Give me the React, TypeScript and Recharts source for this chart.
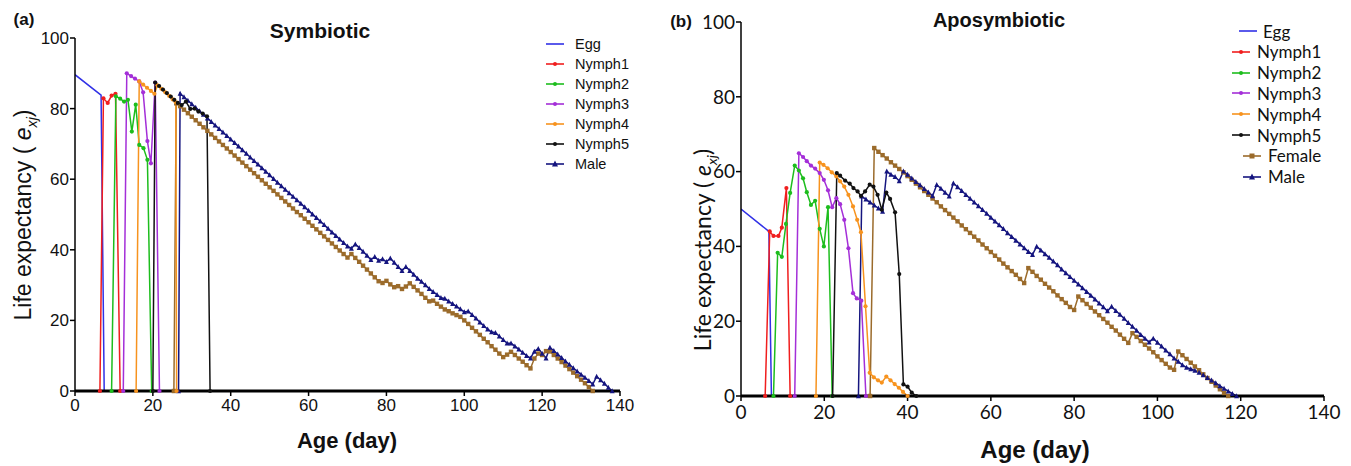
import React from "react"
import { LineChart, Line, XAxis, YAxis } from "recharts"

const xTicks = [0, 20, 40, 60, 80, 100, 120, 140]
const yTicks = [0, 20, 40, 60, 80, 100]

// (a) Symbiotic: [age (day), e_xj]
const symEgg = [[0, 89.6], [6.7, 83.8], [7.5, 0]]
const symNymph1 = [[6.4, 0], [7.3, 82.9], [8.4, 81.6], [9.4, 83.7], [10.4, 84.2], [11.6, 0]]
const symNymph2 = [[9.4, 0], [10.5, 83.5], [11.6, 82.8], [12.6, 82.0], [13.6, 82.5], [14.6, 73.5], [15.6, 81.1], [16.5, 69.7], [17.6, 68.8], [18.6, 65.5], [19.7, 0]]
const symNymph3 = [[12.4, 0], [13.3, 90.0], [14.4, 89.2], [15.4, 88.5], [16.5, 87.7], [17.5, 84.6], [18.6, 70.8], [19.5, 64.5], [20.6, 87.4], [21.7, 0]]
const symNymph4 = [[15.7, 0], [16.5, 87.7], [17.5, 86.8], [18.5, 85.9], [19.5, 85.0], [20.4, 84.2], [21.2, 86.6], [22.2, 85.6], [23.2, 84.6], [24.2, 83.6], [25.1, 82.6], [25.9, 81.8], [26.1, 0]]
const symNymph5 = [[20.0, 0], [20.6, 87.4], [21.6, 86.4], [22.6, 85.4], [23.6, 84.4], [24.6, 83.4], [25.5, 82.5], [26.4, 81.6], [27.4, 81.0], [28.5, 82.0], [29.6, 79.9], [30.7, 80.0], [31.7, 79.2], [32.8, 78.6], [33.9, 77.8], [34.7, 0]]
const symFemaleRise = 25.4
const symFemaleStart = 26
const symFemale = [
  81.5, 80.7, 79.7, 78.7, 77.7, 76.7, 75.7, 74.7, 73.7, 72.7,
  71.7, 70.7, 69.7, 68.7, 67.7, 66.7, 65.7, 64.7, 63.7, 62.7,
  61.7, 60.7, 59.7, 58.7, 57.7, 56.7, 55.7, 54.7, 53.7, 52.7,
  51.7, 50.7, 49.8, 48.8, 47.8, 46.8, 45.8, 44.8, 43.8, 42.8,
  41.8, 40.8, 39.8, 38.8, 37.8, 38.8, 37.7, 36.6, 35.5, 34.4,
  33.3, 32.2, 31.1, 30.6, 31.2, 30.2, 29.4, 29.7, 28.9, 29.6,
  30.5, 29.5, 28.5, 27.5, 26.4, 25.4, 25.6, 24.7, 23.9, 23.1,
  22.6, 22.0, 21.5, 21.0, 20.0, 19.0, 17.9, 16.9, 15.9, 14.8,
  13.8, 12.7, 11.7, 10.6, 9.6, 10.3, 11.1, 10.2, 9.2, 8.3,
  7.3, 6.4, 9.2, 10.6, 10.2, 11.3, 11.2, 10.2, 9.2, 8.2,
  7.2, 6.2, 5.2, 4.2, 3.2, 2.2, 1.1, 0,
]
const symMaleRise = 26.6
const symMaleStart = 27
const symMale = [
  84.3, 83.3, 82.3, 81.3, 80.3, 79.3, 78.3, 77.3, 76.3, 75.3,
  74.3, 73.3, 72.3, 71.3, 70.3, 69.3, 68.3, 67.3, 66.2, 65.2,
  64.2, 63.2, 62.2, 61.2, 60.1, 59.1, 58.1, 57.1, 56.1, 55.1,
  54.1, 53.1, 52.1, 51.1, 50.1, 49.1, 48.1, 47.1, 46.0, 45.0,
  44.0, 43.0, 42.0, 41.0, 40.4, 41.6, 40.6, 39.5, 38.4, 37.2,
  38.0, 37.0, 37.4, 36.6, 37.6, 36.4, 35.2, 34.1, 35.2, 34.1,
  33.0, 31.9, 31.0, 30.0, 29.0, 28.1, 27.3, 26.4, 26.2, 25.4,
  24.7, 24.0, 23.2, 22.4, 22.6, 21.6, 20.6, 19.5, 18.5, 17.5,
  16.7, 16.5, 15.5, 14.5, 13.5, 13.5, 12.7, 11.8, 10.9, 10.0,
  9.3, 11.2, 12.0, 10.6, 9.3, 12.3, 11.4, 10.4, 9.4, 8.4,
  7.5, 6.5, 5.6, 4.7, 3.8, 2.9, 1.9, 4.1, 3.1, 2.1,
  1.0, 0,
]

// (b) Aposymbiotic: [age (day), e_xj]
const apoEgg = [[0, 50.0], [6.7, 44.0], [7.3, 0]]
const apoNymph1 = [[5.8, 0], [6.9, 44.0], [7.8, 42.8], [9.0, 42.8], [9.8, 45.0], [10.9, 55.6], [11.8, 0]]
const apoNymph2 = [[7.8, 0], [8.8, 38.3], [9.8, 37.2], [10.8, 46.0], [11.8, 54.3], [12.9, 61.6], [13.9, 60.3], [14.9, 58.2], [15.8, 54.5], [16.8, 51.1], [17.8, 52.2], [18.9, 44.7], [19.9, 40.0], [20.9, 50.5], [21.9, 0]]
const apoNymph3 = [[12.9, 0], [13.9, 64.9], [14.9, 63.9], [15.8, 62.8], [16.8, 61.6], [17.8, 60.8], [18.9, 59.6], [19.9, 57.8], [20.9, 55.0], [21.9, 50.5], [22.9, 52.9], [23.8, 51.3], [24.8, 47.1], [25.8, 39.5], [26.9, 27.5], [27.8, 26.1], [28.9, 25.5], [30.0, 0]]
const apoNymph4 = [[18.0, 0], [18.9, 62.4], [19.8, 61.8], [20.8, 60.9], [21.8, 59.8], [22.9, 58.7], [23.8, 57.4], [24.8, 56.0], [25.8, 53.8], [26.9, 50.7], [27.9, 47.1], [28.8, 43.8], [29.9, 24.0], [30.9, 6.2], [31.9, 5.0], [32.9, 4.2], [33.8, 3.6], [34.9, 5.2], [35.9, 4.2], [36.9, 3.2], [37.9, 2.2], [38.9, 1.1], [40.0, 0]]
const apoNymph5 = [[22.0, 0], [23.0, 59.6], [23.8, 58.9], [25.0, 57.6], [26.1, 56.8], [27.0, 55.6], [28.0, 54.7], [28.8, 53.5], [29.8, 54.7], [30.9, 56.5], [31.8, 56.0], [32.8, 53.8], [33.8, 49.8], [34.9, 54.4], [35.8, 52.7], [37.0, 49.1], [38.0, 32.6], [39.0, 3.1], [40.0, 2.5], [41.0, 0.9], [42.1, 0]]
const apoFemaleRise = 31
const apoFemaleStart = 32
const apoFemale = [
  66.3, 65.3, 64.4, 63.5, 62.5, 61.6, 60.7, 59.8, 58.8, 57.8,
  56.8, 55.8, 54.8, 53.8, 52.8, 51.8, 50.7, 49.7, 48.7, 47.7,
  46.7, 45.6, 44.6, 43.6, 42.6, 41.6, 40.5, 39.5, 38.5, 37.5,
  36.5, 35.4, 34.4, 33.4, 32.4, 31.3, 30.2, 34.2, 33.2, 32.1,
  31.1, 30.0, 29.0, 28.0, 26.9, 25.9, 24.9, 23.8, 23.0, 26.6,
  25.6, 24.6, 23.6, 22.6, 21.6, 20.6, 19.6, 18.5, 17.5, 16.4,
  15.3, 14.2, 16.8, 15.8, 14.7, 13.7, 12.7, 11.7, 10.6, 9.6,
  8.6, 7.6, 7.0, 11.9, 10.9, 9.9, 8.9, 7.9, 6.9, 5.8,
  4.8, 3.8, 2.8, 1.8, 0.8, 0,
]
const apoMaleRise = 28.2
const apoMaleStart = 29
const apoMale = [
  53.4, 52.6, 51.8, 51.0, 50.2, 49.3, 60.1, 59.2, 58.6, 57.5,
  60.1, 59.2, 58.2, 57.3, 56.4, 55.4, 54.5, 53.5, 56.5, 55.5,
  54.4, 53.4, 56.9, 55.9, 54.9, 53.8, 52.8, 51.8, 50.8, 49.8,
  48.8, 47.7, 46.7, 45.7, 44.7, 43.6, 42.6, 41.6, 40.6, 39.6,
  38.6, 37.8, 40.0, 39.0, 38.0, 37.0, 36.0, 35.0, 33.9, 32.9,
  31.9, 30.9, 29.9, 28.9, 27.9, 26.9, 25.9, 24.8, 23.8, 22.7,
  23.9, 22.8, 21.8, 20.7, 19.6, 18.6, 17.5, 16.4, 15.4, 14.4,
  15.4, 14.3, 13.3, 12.2, 11.2, 10.1, 9.2, 8.3, 7.6, 7.2,
  6.8, 6.3, 5.6, 4.9, 4.2, 3.5, 2.7, 2.0, 1.3, 0.6,
  0,
]

const COLORS = {
  egg: "#3030e6",
  n1: "#f01e1e",
  n2: "#1dbd1d",
  n3: "#a42fd8",
  n4: "#f7931e",
  n5: "#111111",
  female: "#9b6b2b",
  male: "#15157f",
}

const pts = (arr: number[][]) => arr.map(([x, y]) => ({ x, y }))
const daily = (rise: number, start: number, vals: number[]) => [
  { x: rise, y: 0 },
  ...vals.map((y, i) => ({ x: start + i, y })),
]

const circleDot = (color: string, r = 2.1) => (p: any) => {
  if (p.cx == null || p.cy == null) return <g key={`c-${p.index}`} />
  return <circle key={`c-${p.index}`} cx={p.cx} cy={p.cy} r={r} fill={color} stroke="none" />
}
const squareDot = (color: string, s = 4.4) => (p: any) => {
  if (p.cx == null || p.cy == null) return <g key={`s-${p.index}`} />
  return <rect key={`s-${p.index}`} x={p.cx - s / 2} y={p.cy - s / 2} width={s} height={s} fill={color} />
}
const triDot = (color: string, s = 5) => (p: any) => {
  if (p.cx == null || p.cy == null) return <g key={`t-${p.index}`} />
  const h = s * 0.9
  return (
    <polygon
      key={`t-${p.index}`}
      points={`${p.cx},${p.cy - h / 2 - 0.5} ${p.cx - s / 2},${p.cy + h / 2} ${p.cx + s / 2},${p.cy + h / 2}`}
      fill={color}
    />
  )
}

type Series = { name: string; color: string; shape: "line" | "circle" | "square" | "triangle"; data: { x: number; y: number }[] }

const symSeries: Series[] = [
  { name: "Female", color: COLORS.female, shape: "square", data: daily(symFemaleRise, symFemaleStart, symFemale) },
  { name: "Male", color: COLORS.male, shape: "triangle", data: daily(symMaleRise, symMaleStart, symMale) },
  { name: "Egg", color: COLORS.egg, shape: "line", data: pts(symEgg) },
  { name: "Nymph1", color: COLORS.n1, shape: "circle", data: pts(symNymph1) },
  { name: "Nymph2", color: COLORS.n2, shape: "circle", data: pts(symNymph2) },
  { name: "Nymph3", color: COLORS.n3, shape: "circle", data: pts(symNymph3) },
  { name: "Nymph4", color: COLORS.n4, shape: "circle", data: pts(symNymph4) },
  { name: "Nymph5", color: COLORS.n5, shape: "circle", data: pts(symNymph5) },
]

const apoSeries: Series[] = [
  { name: "Female", color: COLORS.female, shape: "square", data: daily(apoFemaleRise, apoFemaleStart, apoFemale) },
  { name: "Male", color: COLORS.male, shape: "triangle", data: daily(apoMaleRise, apoMaleStart, apoMale) },
  { name: "Egg", color: COLORS.egg, shape: "line", data: pts(apoEgg) },
  { name: "Nymph1", color: COLORS.n1, shape: "circle", data: pts(apoNymph1) },
  { name: "Nymph2", color: COLORS.n2, shape: "circle", data: pts(apoNymph2) },
  { name: "Nymph3", color: COLORS.n3, shape: "circle", data: pts(apoNymph3) },
  { name: "Nymph4", color: COLORS.n4, shape: "circle", data: pts(apoNymph4) },
  { name: "Nymph5", color: COLORS.n5, shape: "circle", data: pts(apoNymph5) },
]

const dotFor = (s: Series) => {
  if (s.shape === "circle") return circleDot(s.color)
  if (s.shape === "square") return squareDot(s.color)
  if (s.shape === "triangle") return triDot(s.color)
  return false
}

const ARIAL = "'Liberation Sans', Arial, sans-serif"
const CALIBRI = "Lato, 'Open Sans', sans-serif"

const LegendIcon = ({ color, shape }: { color: string; shape: Series["shape"] }) => (
  <svg width={18} height={10} style={{ display: "block" }}>
    <line x1={0} y1={5} x2={18} y2={5} stroke={color} strokeWidth={1.6} />
    {shape === "circle" && <circle cx={9} cy={5} r={2} fill={color} />}
    {shape === "square" && <rect x={6.5} y={2.5} width={5} height={5} fill={color} />}
    {shape === "triangle" && <polygon points="9,1.5 6,7.5 12,7.5" fill={color} />}
  </svg>
)

const symLegend = ["Egg", "Nymph1", "Nymph2", "Nymph3", "Nymph4", "Nymph5", "Male"]
const apoLegend = ["Egg", "Nymph1", "Nymph2", "Nymph3", "Nymph4", "Nymph5", "Female", "Male"]

const Panel = ({
  series, left, width, marginTop, yAxisWidth, xAxisHeight, tickFont, tickSize, tickMargin,
}: any) => (
  <div style={{ position: "absolute", left, top: 0 }}>
    <LineChart width={width} height={466} margin={{ top: marginTop, right: 20, bottom: 0, left: 0 }}>
      <XAxis
        type="number"
        dataKey="x"
        domain={[0, 140]}
        ticks={xTicks}
        allowDataOverflow
        height={xAxisHeight}
        axisLine={{ stroke: "#000", strokeWidth: 3 }}
        tickLine={{ stroke: "#000", strokeWidth: 1.5 }}
        tickSize={5}
        tickMargin={tickMargin}
        tick={{ fill: "#111", fontSize: tickSize, fontFamily: tickFont }}
      />
      <YAxis
        type="number"
        dataKey="y"
        domain={[0, 100]}
        ticks={yTicks}
        width={yAxisWidth}
        axisLine={{ stroke: "#000", strokeWidth: 1.5 }}
        tickLine={{ stroke: "#000", strokeWidth: 1.5 }}
        tickSize={5}
        tickMargin={1}
        tick={{ fill: "#111", fontSize: tickSize, fontFamily: tickFont }}
      />
      {series.map((s: Series) => (
        <Line
          key={s.name}
          data={s.data}
          dataKey="y"
          name={s.name}
          type="linear"
          stroke={s.color}
          strokeWidth={1.5}
          dot={dotFor(s) as any}
          activeDot={false}
          isAnimationActive={false}
          legendType="none"
        />
      ))}
    </LineChart>
  </div>
)

const LegendBlock = ({ names, series, top, step, rows }: any) => (
  <>
    {names.map((n: string, i: number) => {
      const s = series.find((q: Series) => q.name === n)
      const r = rows[i]
      return (
        <div
          key={n}
          style={{
            position: "absolute",
            left: r.icon,
            top: top + i * step - 10,
            height: 20,
            display: "flex",
            alignItems: "center",
          }}
        >
          <LegendIcon color={s.color} shape={s.shape} />
          <span style={{ marginLeft: r.gap, fontFamily: r.font, fontSize: r.size, color: "#111", whiteSpace: "nowrap" }}>
            {n}
          </span>
        </div>
      )
    })}
  </>
)

const symRows = symLegend.map(() => ({ icon: 546, gap: 11, font: ARIAL, size: 14.5 }))
const apoRows = apoLegend.map((n) => ({
  icon: n === "Egg" ? 1239 : n === "Female" || n === "Male" ? 1243 : 1232,
  gap: n === "Egg" ? 6 : 7,
  font: CALIBRI,
  size: 17,
}))

const YTitle = ({ x, y, size, font }: any) => (
  <div
    style={{
      position: "absolute",
      left: x,
      top: y,
      transform: "translate(-50%, -50%) rotate(-90deg)",
      whiteSpace: "nowrap",
      fontFamily: font,
      fontSize: size,
      color: "#111",
    }}
  >
    Life expectancy ( <i>e</i>
    <sub style={{ fontSize: "0.62em", fontStyle: "italic" }}>xj</sub>)
  </div>
)

const Text = ({ x, y, size, children, bold = true, font = ARIAL }: any) => (
  <div
    style={{
      position: "absolute",
      left: x,
      top: y,
      transform: "translate(-50%, -50%)",
      whiteSpace: "nowrap",
      fontFamily: font,
      fontSize: size,
      fontWeight: bold ? 700 : 400,
      color: "#111",
    }}
  >
    {children}
  </div>
)

export default function App() {
  return (
    <div style={{ position: "absolute", left: 0, top: 0, width: 1351, height: 466, background: "#fff", overflow: "hidden" }}>
      <Panel
        series={symSeries}
        left={0}
        width={640}
        marginTop={38}
        yAxisWidth={75}
        xAxisHeight={75}
        tickFont={ARIAL}
        tickSize={17}
        tickMargin={3}
      />
      <Panel
        series={apoSeries}
        left={680}
        width={664}
        marginTop={22}
        yAxisWidth={61}
        xAxisHeight={70}
        tickFont={CALIBRI}
        tickSize={19}
        tickMargin={5}
      />
      <LegendBlock names={symLegend} series={symSeries} top={44} step={20} rows={symRows} />
      <LegendBlock names={apoLegend} series={apoSeries} top={31} step={20.8} rows={apoRows} />

      <Text x={24} y={20} size={17}>(a)</Text>
      <Text x={681} y={22} size={17}>(b)</Text>
      <Text x={320} y={31} size={21}>Symbiotic</Text>
      <Text x={999} y={20} size={20}>Aposymbiotic</Text>
      <Text x={347} y={441} size={22}>Age (day)</Text>
      <Text x={1035} y={450} size={24}>Age (day)</Text>
      <YTitle x={25} y={215} size={23} font={ARIAL} />
      <YTitle x={704} y={250} size={23} font={CALIBRI} />
    </div>
  )
}
